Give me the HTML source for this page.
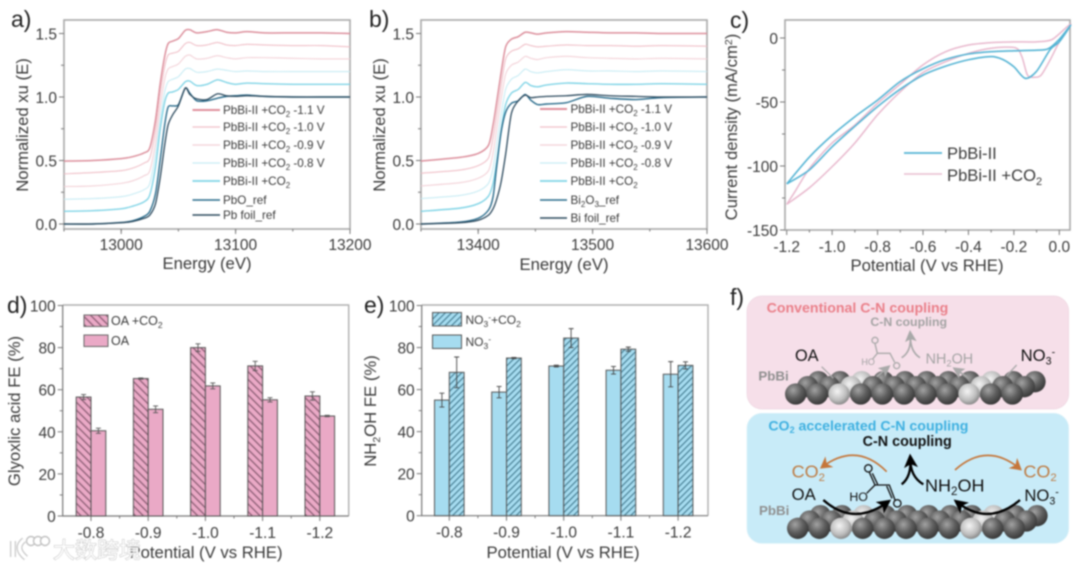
<!DOCTYPE html>
<html lang="en">
<head>
<meta charset="utf-8">
<title>PbBi-II XAS, CV and Faradaic efficiency figure</title>
<style>
html,body{margin:0;padding:0;background:#fff;width:1080px;height:569px;overflow:hidden}
svg{display:block;filter:blur(0.7px)}
text{font-family:"Liberation Sans","Noto Sans CJK SC",sans-serif;fill:#3a3a3a}
.tick{font-size:15.5px}
.title{font-size:16.7px}
.leg{font-size:11.7px}
.panel{font-size:23px;fill:#222}
.ft{font-weight:bold}
</style>
</head>
<body>
<svg id="fig" xmlns="http://www.w3.org/2000/svg" width="1080" height="569" viewBox="0 0 1080 569">
<defs>
<pattern id="hatch-pink" patternUnits="userSpaceOnUse" width="5.5" height="5.5" patternTransform="rotate(-45)">
<rect width="5.5" height="5.5" fill="#eaa9c6"/><rect x="0" width="1.2" height="5.5" fill="#85596f"/>
</pattern>
<pattern id="hatch-blue" patternUnits="userSpaceOnUse" width="4.5" height="4.5" patternTransform="rotate(45)">
<rect width="4.5" height="4.5" fill="#a6dcf0"/><rect x="0" width="1.1" height="4.5" fill="#437a8f"/>
</pattern>
<radialGradient id="atom-dark" cx="38%" cy="32%" r="70%"><stop offset="0" stop-color="#a2a2a2"/><stop offset=".55" stop-color="#5e5e5e"/><stop offset="1" stop-color="#373737"/></radialGradient>
<radialGradient id="atom-light" cx="42%" cy="38%" r="70%"><stop offset="0" stop-color="#f4f4f4"/><stop offset=".6" stop-color="#bdbdbd"/><stop offset="1" stop-color="#777"/></radialGradient>
<marker id="arrow-orange" markerWidth="8" markerHeight="8" refX="5" refY="4" orient="auto"><path d="M0,0 L7,4 L0,8 L2,4 Z" fill="#c5763a"/></marker>
<marker id="arrow-black" markerWidth="6" markerHeight="6" refX="4" refY="3" orient="auto"><path d="M0,0 L6,3 L0,6 L1.5,3 Z" fill="#000"/></marker>
<marker id="arrow-gray" markerWidth="7" markerHeight="7" refX="4" refY="3.5" orient="auto"><path d="M0,0 L7,3.5 L0,7 L1.5,3.5 Z" fill="#a9a9a9"/></marker>
</defs>

<g id="panel-a"></g>
<g id="panel-b"></g>
<g id="panel-c"></g>
<g id="panel-d"></g>
<g id="panel-e"></g>

<!-- static labels -->
<text class="panel" x="11" y="27">a)</text>
<text class="panel" x="369" y="27">b)</text>
<text class="panel" x="730" y="28">c)</text>
<text class="panel" x="7" y="313">d)</text>
<text class="panel" x="364" y="313">e)</text>
<text class="panel" x="730" y="305">f)</text>

<text class="title" x="207" y="269" text-anchor="middle">Energy (eV)</text>
<text class="title" x="564" y="270" text-anchor="middle">Energy (eV)</text>
<text class="title" x="927" y="271" text-anchor="middle">Potential (V vs RHE)</text>
<text class="title" x="206" y="558" text-anchor="middle">Potential (V vs RHE)</text>
<text class="title" x="563" y="558" text-anchor="middle">Potential (V vs RHE)</text>
<text class="title" transform="translate(28,125) rotate(-90)" text-anchor="middle">Normalized xu (E)</text>
<text class="title" transform="translate(385,125) rotate(-90)" text-anchor="middle">Normalized xu (E)</text>
<text class="title" transform="translate(737,127) rotate(-90)" text-anchor="middle">Current density (mA/cm<tspan dy="-5" font-size="10.5">2</tspan><tspan dy="5">)</tspan></text>
<text class="title" transform="translate(20,411) rotate(-90)" text-anchor="middle">Glyoxlic acid FE (%)</text>
<text class="title" transform="translate(376,411) rotate(-90)" text-anchor="middle">NH<tspan dy="4" font-size="10.5">2</tspan><tspan dy="-4">OH FE (%)</tspan></text>

<!-- legends -->
<g>
<line x1="192.5" x2="220" y1="110" y2="110" stroke="#e0909c" stroke-width="2"/><text class="leg" x="223" y="114">PbBi-II +CO<tspan dy="3" font-size="8">2</tspan><tspan dy="-3"> -1.1 V</tspan></text>
<line x1="192.5" x2="220" y1="127" y2="127" stroke="#f0c0c8" stroke-width="1.2"/><text class="leg" x="223" y="131">PbBi-II +CO<tspan dy="3" font-size="8">2</tspan><tspan dy="-3"> -1.0 V</tspan></text>
<line x1="192.5" x2="220" y1="145" y2="145" stroke="#f2d0d6" stroke-width="1.2"/><text class="leg" x="223" y="149">PbBi-II +CO<tspan dy="3" font-size="8">2</tspan><tspan dy="-3"> -0.9 V</tspan></text>
<line x1="192.5" x2="220" y1="163" y2="163" stroke="#c8ecf4" stroke-width="1.2"/><text class="leg" x="223" y="167">PbBi-II +CO<tspan dy="3" font-size="8">2</tspan><tspan dy="-3"> -0.8 V</tspan></text>
<line x1="192.5" x2="220" y1="181" y2="181" stroke="#80d4e6" stroke-width="1.8"/><text class="leg" x="223" y="185">PbBi-II +CO<tspan dy="3" font-size="8">2</tspan></text>
<line x1="192.5" x2="220" y1="200" y2="200" stroke="#2a6c8c" stroke-width="1.6"/><text class="leg" x="223" y="204">PbO_ref</text>
<line x1="192.5" x2="220" y1="215" y2="215" stroke="#2c4a5e" stroke-width="1.4"/><text class="leg" x="223" y="219">Pb foil_ref</text>
</g>
<g>
<line x1="540" x2="567" y1="109" y2="109" stroke="#e0909c" stroke-width="2"/><text class="leg" x="570.5" y="113">PbBi-II +CO<tspan dy="3" font-size="8">2</tspan><tspan dy="-3"> -1.1 V</tspan></text>
<line x1="540" x2="567" y1="127" y2="127" stroke="#f0c0c8" stroke-width="1.2"/><text class="leg" x="570.5" y="131">PbBi-II +CO<tspan dy="3" font-size="8">2</tspan><tspan dy="-3"> -1.0 V</tspan></text>
<line x1="540" x2="567" y1="145" y2="145" stroke="#f2d0d6" stroke-width="1.2"/><text class="leg" x="570.5" y="149">PbBi-II +CO<tspan dy="3" font-size="8">2</tspan><tspan dy="-3"> -0.9 V</tspan></text>
<line x1="540" x2="567" y1="163" y2="163" stroke="#c8ecf4" stroke-width="1.2"/><text class="leg" x="570.5" y="167">PbBi-II +CO<tspan dy="3" font-size="8">2</tspan><tspan dy="-3"> -0.8 V</tspan></text>
<line x1="540" x2="567" y1="181" y2="181" stroke="#80d4e6" stroke-width="1.8"/><text class="leg" x="570.5" y="185">PbBi-II +CO<tspan dy="3" font-size="8">2</tspan></text>
<line x1="540" x2="567" y1="200" y2="200" stroke="#2a6c8c" stroke-width="1.6"/><text class="leg" x="570.5" y="204">Bi<tspan dy="3" font-size="8">2</tspan><tspan dy="-3">O</tspan><tspan dy="3" font-size="8">3</tspan><tspan dy="-3">_ref</tspan></text>
<line x1="540" x2="567" y1="218" y2="218" stroke="#2c4a5e" stroke-width="1.4"/><text class="leg" x="570.5" y="222">Bi foil_ref</text>
</g>
<g>
<line x1="904" x2="942" y1="153" y2="153" stroke="#55b4d4" stroke-width="1.8"/><text x="947" y="159" font-size="16.6">PbBi-II</text>
<line x1="904" x2="942" y1="174" y2="174" stroke="#e8bcd0" stroke-width="1.6"/><text x="947" y="181" font-size="16.6">PbBi-II +CO<tspan dy="4" font-size="11">2</tspan></text>
</g>
<g>
<rect x="84" y="315" width="24" height="11.5" fill="url(#hatch-pink)" stroke="#666"/><text x="111" y="325" font-size="12.5">OA +CO<tspan dy="3" font-size="8.5">2</tspan></text>
<rect x="84" y="335" width="24" height="11.5" fill="#eaa9c6" stroke="#666"/><text x="111" y="345" font-size="12.5">OA</text>
</g>
<g>
<rect x="432.500" y="312.500" width="29" height="13.500" fill="url(#hatch-blue)" stroke="#555"/><text x="465.500" y="324" font-size="12">NO<tspan dy="3" font-size="8.5">3</tspan><tspan dy="-7" font-size="8.5">-</tspan><tspan dy="4">+CO</tspan><tspan dy="3" font-size="8.500">2</tspan></text>
<rect x="432.500" y="335" width="29" height="13.500" fill="#a6dcf0" stroke="#555"/><text x="465.500" y="346" font-size="12">NO<tspan dy="3" font-size="8.5">3</tspan><tspan dy="-7" font-size="8.5">-</tspan></text>
</g>

<!-- panel f schematic, authored in 3x coordinates -->
<g id="panel-f" transform="translate(730,285) scale(.33333)">
<rect x="51" y="33" width="965" height="339" rx="45" fill="#f6dfe9" stroke="#eed6e1" stroke-width="2"/>
<rect x="51" y="385" width="965" height="390" rx="45" fill="#c8ebf8" stroke="#d8f0f8" stroke-width="2"/>
<g id="atoms-top"></g>
<g id="atoms-bottom"></g>

<text class="ft" x="110" y="83" font-size="42.500" style="fill:#ea7f89">Conventional C-N coupling</text>
<text class="ft" x="421" y="123" font-size="37" style="fill:#a3a3a3">C-N coupling</text>
<text x="195" y="228" font-size="49" style="fill:#111">OA</text>
<text x="872" y="228" font-size="50" style="fill:#111">NO<tspan dy="10" font-size="32">3</tspan><tspan dy="-26" font-size="32">-</tspan></text>
<text x="587" y="236" font-size="43" style="fill:#a3a3a3">NH<tspan dy="8" font-size="28">2</tspan><tspan dy="-8">OH</tspan></text>
<text class="ft" x="85" y="287" font-size="40" style="fill:#8f8f8f">PbBi</text>
<g fill="none" stroke="#a9a9a9" stroke-width="4">
<circle cx="435" cy="166" r="9"/><circle cx="500" cy="242" r="9"/>
<path d="M435 176 L442 205 L480 205 L494 232 M442 205 L428 222"/>
<path d="M275 245 L310 280 M860 240 L830 272"/>
<path d="M515 218 Q545 200 541 150" stroke-width="5" marker-end="url(#arrow-gray)"/>
<path d="M570 218 Q540 200 541 150" stroke-width="5"/>
<path d="M440 275 L470 250" stroke-width="5" marker-end="url(#arrow-gray)"/>
<path d="M710 275 L680 255" stroke-width="5" marker-end="url(#arrow-gray)"/>
</g>
<text x="394" y="240" font-size="27" style="fill:#a3a3a3">HO</text>

<text class="ft" x="115" y="436" font-size="42.500" style="fill:#3fb0e0">CO<tspan dy="8" font-size="27">2</tspan><tspan dy="-8"> accelerated C-N coupling</tspan></text>
<text class="ft" x="398" y="483" font-size="43" style="fill:#111">C-N coupling</text>
<text x="185" y="578" font-size="54" style="fill:#bd7c45">CO<tspan dy="10" font-size="34">2</tspan></text>
<text x="880" y="578" font-size="54" style="fill:#bd7c45">CO<tspan dy="10" font-size="34">2</tspan></text>
<text x="185" y="645" font-size="50" style="fill:#111">OA</text>
<text x="585" y="620" font-size="54" style="fill:#111">NH<tspan dy="10" font-size="35">2</tspan><tspan dy="-10">OH</tspan></text>
<text x="883" y="648" font-size="50" style="fill:#111">NO<tspan dy="10" font-size="32">3</tspan><tspan dy="-26" font-size="32">-</tspan></text>
<text class="ft" x="87" y="690" font-size="40" style="fill:#8f8f8f">PbBi</text>
<text x="358" y="648" font-size="37" style="fill:#111">HO</text>
<g fill="none" stroke="#111" stroke-width="4">
<circle cx="415" cy="550" r="11"/><circle cx="502" cy="655" r="11"/>
<path d="M418 562 L435 600 L478 600 L495 645 M427 565 L443 598 M435 600 L410 625 M470 603 L486 640"/>
</g>
<g fill="none" stroke="#c5763a" stroke-width="5">
<path d="M470 560 Q380 470 278 545" marker-end="url(#arrow-orange)"/>
<path d="M675 555 Q770 470 868 550" marker-end="url(#arrow-orange)"/>
</g>
<g fill="none" stroke="#000" stroke-width="7">
<path d="M280 645 Q370 725 472 652" marker-end="url(#arrow-black)"/>
<path d="M870 645 Q775 725 682 652" marker-end="url(#arrow-black)"/>
<path d="M515 598 Q545 575 541 520" stroke-width="7" marker-end="url(#arrow-black)"/>
<path d="M580 598 Q540 575 541 520" stroke-width="7"/>
</g>
</g>

<!-- watermark -->
<g>
<path d="M13 541 L13 557 M24 540 Q14 548 26 558" fill="none" stroke="#c8c8c8" stroke-width="6"/>
<path d="M13 541 L13 557 M24 540 Q14 548 26 558" fill="none" stroke="#fff" stroke-width="3.5"/>
<circle cx="31" cy="541" r="4.500" fill="#fff" stroke="#c0c0c0" stroke-width="1.4"/>
<circle cx="38" cy="541" r="4.500" fill="#fff" stroke="#c0c0c0" stroke-width="1.4"/>
<circle cx="45" cy="541" r="4.500" fill="#fff" stroke="#c0c0c0" stroke-width="1.4"/>
<text x="53" y="558" font-size="22" style="fill:#fff;stroke:#b5b5b5;stroke-width:.8px;paint-order:stroke;font-family:'Liberation Sans','Noto Sans CJK SC',sans-serif">大数跨境</text>
</g>
</svg>

<script>
// ---------- Panel a data ----------
const pbEnergy = [12950,12975,13000,13010,13020,13025,13030,13034,13038,13041,13045,13050,13056,13060,13066,13075,13084,13092,13100,13110,13125,13150,13175,13200];
const pbV11 = [.495,.5,.515,.53,.56,.6,.82,1.1,1.32,1.42,1.44,1.46,1.525,1.53,1.505,1.515,1.53,1.51,1.505,1.515,1.505,1.505,1.505,1.5];
const pbV10 = [.395,.405,.42,.44,.48,.52,.74,1.02,1.24,1.33,1.345,1.36,1.42,1.43,1.405,1.41,1.43,1.41,1.405,1.415,1.41,1.405,1.405,1.395];
const pbV09 = [.295,.3,.32,.34,.38,.42,.64,.92,1.14,1.22,1.24,1.26,1.32,1.33,1.3,1.305,1.325,1.31,1.3,1.31,1.31,1.305,1.3,1.3];
const pbV08 = [.195,.2,.215,.235,.27,.32,.55,.82,1.04,1.12,1.14,1.16,1.22,1.225,1.195,1.2,1.22,1.21,1.2,1.205,1.2,1.2,1.2,1.2];
const pbV00 = [.1,.105,.12,.14,.175,.23,.45,.74,.96,1.03,1.04,1.06,1.12,1.125,1.09,1.1,1.135,1.115,1.1,1.11,1.105,1.1,1.1,1.1];
const pboRef = [0,0,.012,.025,.06,.1,.24,.5,.78,.92,.93,.94,1.07,1.03,.97,.97,.99,1.005,1.01,1.015,1.005,1,1,1];
const pbFoilRef = [0,0,.01,.02,.045,.07,.16,.36,.62,.78,.86,.93,1.07,1.02,.985,.98,1.025,1.01,1.005,1.01,1.005,1,1,1];
const energyTicksA = [13000,13100,13200];
const normTicks = [0,.5,1,1.5];

// ---------- Panel b data ----------
const biEnergy = [13350,13384,13400,13409,13413,13416,13420,13424,13429,13435,13441,13446,13452,13460,13477,13495,13515,13538,13560,13600];
const biV11 = [.496,.525,.556,.62,.78,.95,1.19,1.395,1.455,1.475,1.51,1.505,1.495,1.505,1.515,1.51,1.505,1.505,1.5,1.5];
const biV10 = [.4,.425,.46,.52,.68,.85,1.09,1.3,1.36,1.38,1.415,1.405,1.395,1.4,1.41,1.405,1.405,1.4,1.405,1.4];
const biV09 = [.3,.325,.36,.42,.56,.74,.98,1.18,1.25,1.275,1.32,1.305,1.295,1.31,1.32,1.31,1.305,1.3,1.305,1.3];
const biV08 = [.2,.225,.26,.32,.44,.62,.86,1.06,1.14,1.17,1.22,1.2,1.19,1.2,1.215,1.205,1.205,1.2,1.205,1.2];
const biV00 = [.1,.125,.16,.22,.32,.48,.74,.94,1.03,1.06,1.115,1.09,1.08,1.095,1.11,1.105,1.1,1.1,1.105,1.1];
const bi2o3Ref = [0,.015,.045,.11,.215,.44,.72,.88,.95,.97,1.02,.975,.94,.945,.955,1.005,.99,.98,.995,1];
const biFoilRef = [0,.01,.03,.07,.12,.19,.33,.55,.87,.97,1.015,.995,1,1.005,1.01,1.02,1.01,1.005,1,1];
const energyTicksB = [13400,13500,13600];

// ---------- Panel c data ----------
const cvBluePotential = [-1.2,-1.1,-1,-.9,-.8,-.7,-.6,-.5,-.4,-.3,-.2,-.1,-.05,0,.05,0,-.04,-.1,-.15,-.2,-.25,-.3,-.4,-.5,-.6,-.7,-.8,-.9,-1,-1.1,-1.2];
const cvBlueCurrent = [-114,-93,-76,-61.5,-48.5,-34,-24,-16.7,-12.5,-10.7,-10,-9.500,-8.500,-1,10,-3,-9,-26,-31.500,-22.500,-16.700,-14.500,-17,-22,-29,-40,-53.600,-69,-85,-103,-114];
const cvPinkPotential = [-1.2,-1.16,-1.1,-1,-.9,-.8,-.7,-.6,-.5,-.4,-.3,-.2,-.1,-.03,.05,0,-.04,-.08,-.11,-.14,-.165,-.195,-.3,-.4,-.5,-.6,-.7,-.8,-.9,-1,-1.1,-1.2];
const cvPinkCurrent = [-130,-119,-102,-82,-68,-51,-36,-21,-10.700,-5.500,-3.600,-3,-3,-1,11,-3,-17,-29,-30.700,-29,-14.500,-7.500,-8,-12,-18.500,-27,-42,-60,-82,-100.500,-117,-130];
const cvXTicks = [-1.2,-1,-.8,-.6,-.4,-.2,0];
const cvXLabels = ['-1.2','-1.0','-0.8','-0.6','-0.4','-0.2','0.0'];
const cvYTicks = [0,-50,-100,-150];

// ---------- Panels d / e data ----------
const potentials = ['-0.8','-0.9','-1.0','-1.1','-1.2'];
const feTicks = [0,20,40,60,80,100];
const oaCo2Fe = [56.5,65.3,80,71.3,57];
const oaCo2Err = [1.2,.3,1.8,2.2,2];
const oaFe = [40.5,50.7,61.8,55.2,47.5];
const oaErr = [1.2,1.6,1.4,1,.3];
const no3Fe = [55,58.8,71.2,69.2,67.3];
const no3Err = [3.3,2.7,.4,1.8,6];
const no3Co2Fe = [68.2,75,84.5,79.2,71.5];
const no3Co2Err = [7.3,.3,4.5,1,1.7];

const NS = 'http://www.w3.org/2000/svg';
function mk(parent, tag, attrs){
  const el = document.createElementNS(NS, tag);
  for (const k in attrs) el.setAttribute(k, attrs[k]);
  parent.appendChild(el);
  return el;
}
function scale(d0, d1, r0, r1){ return v => r0 + (v - d0) * (r1 - r0) / (d1 - d0); }
function smoothPath(xs, ys){
  let d = 'M' + xs[0].toFixed(2) + ' ' + ys[0].toFixed(2);
  for (let i = 0; i < xs.length - 1; i++){
    const a = Math.max(i - 1, 0), b = Math.min(i + 2, xs.length - 1);
    const t = 0.14;
    d += ' C' + (xs[i] + (xs[i+1] - xs[a]) * t).toFixed(2) + ' ' + (ys[i] + (ys[i+1] - ys[a]) * t).toFixed(2) +
         ' ' + (xs[i+1] - (xs[b] - xs[i]) * t).toFixed(2) + ' ' + (ys[i+1] - (ys[b] - ys[i]) * t).toFixed(2) +
         ' ' + xs[i+1].toFixed(2) + ' ' + ys[i+1].toFixed(2);
  }
  return d;
}
function drawCurve(g, X, Y, xv, yv, color, width){
  const el = mk(g, 'path', {d: smoothPath(xv.map(X), yv.map(Y)), fill: 'none', stroke: color, 'stroke-width': width, 'stroke-linejoin': 'round'});
  return el;
}
function tickLabel(g, x, y, txt, anchor){
  const el = mk(g, 'text', {x: x, y: y, class: 'tick', 'text-anchor': anchor});
  el.textContent = txt;
  
  
}
function frame(g, x0, x1, y0, y1){
  const el = mk(g, 'rect', {x: x0, y: y0, width: x1 - x0, height: y1 - y0, fill: 'none', stroke: '#a8a8a8', 'stroke-width': 1.6});
  
  
}
function xTick(g, x, y, len){ mk(g, 'line', {x1: x, x2: x, y1: y, y2: y + len, stroke: '#777', 'stroke-width': 1}); }
function yTick(g, x, y, len){ mk(g, 'line', {x1: x - len, x2: x, y1: y, y2: y, stroke: '#777', 'stroke-width': 1}); }

// XAS panels
function xasPanel(id, E, series, eMin, eMax, x0, x1, eTicks, eMinorStep){
  const g = document.getElementById(id);
  const X = scale(eMin, eMax, x0, x1), Y = scale(0, 1.5, 224, 33.5);
  frame(g, x0, x1, 20, 229);
  normTicks.forEach(v => {
    yTick(g, x0, Y(v), 5);
    tickLabel(g, x0 - 7, Y(v) + 6, v.toFixed(1), 'end');
  });
  [.25,.75,1.25].forEach(v => yTick(g, x0, Y(v), 3));
  for (let e = eMin; e <= eMax; e += eMinorStep) xTick(g, X(e), 229, 2.5);
  eTicks.forEach(e => {
    xTick(g, X(e), 229, 5);
    tickLabel(g, X(e), 250, String(e), 'middle');
  });
  series.forEach(s => {
    const c = drawCurve(g, X, Y, E, s.values, s.color, s.width);
    
    
  });
}
xasPanel('panel-a', pbEnergy, [
  {name:'curve-1-1v', values: pbV11, color:'#dc8f9c', width:1.5},
  {name:'curve-1-0v', values: pbV10, color:'#f0c0c8', width:1.1},
  {name:'curve-0-9v', values: pbV09, color:'#f3d2d8', width:1.1},
  {name:'curve-0-8v', values: pbV08, color:'#c8ecf4', width:1.1},
  {name:'curve-co2', values: pbV00, color:'#80d4e6', width:1.4},
  {name:'curve-pbo-ref', values: pboRef, color:'#2a6c8c', width:1.4},
  {name:'curve-pb-foil-ref', values: pbFoilRef, color:'#2c4a5e', width:1.3}
], 12950, 13200, 64, 350, energyTicksA, 50);
xasPanel('panel-b', biEnergy, [
  {name:'curve-1-1v', values: biV11, color:'#dc8f9c', width:1.5},
  {name:'curve-1-0v', values: biV10, color:'#f0c0c8', width:1.1},
  {name:'curve-0-9v', values: biV09, color:'#f3d2d8', width:1.1},
  {name:'curve-0-8v', values: biV08, color:'#c8ecf4', width:1.1},
  {name:'curve-co2', values: biV00, color:'#80d4e6', width:1.4},
  {name:'curve-bi2o3-ref', values: bi2o3Ref, color:'#2a6c8c', width:1.4},
  {name:'curve-bi-foil-ref', values: biFoilRef, color:'#2c4a5e', width:1.3}
], 13350, 13600, 421, 707, energyTicksB, 50);

// CV panel
(function(){
  const g = document.getElementById('panel-c');
  const X = scale(-1.2, 0, 786.7, 1059.3), Y = scale(0, -150, 38, 230);
  frame(g, 785, 1070, 20, 230);
  cvYTicks.forEach(v => {
    yTick(g, 785, Y(v), 5);
    tickLabel(g, 778, Y(v) + 6, String(v), 'end');
  });
  [-25,-75,-125].forEach(v => yTick(g, 785, Y(v), 3));
  cvXTicks.forEach((v, i) => {
    xTick(g, X(v), 230, 5);
    xTick(g, X(v + .1), 230, 2.5);
    tickLabel(g, X(v), 252, cvXLabels[i], 'middle');
  });
  const pink = drawCurve(g, X, Y, cvPinkPotential, cvPinkCurrent, '#e8b8cd', 1.5);
  
  
  const blue = drawCurve(g, X, Y, cvBluePotential, cvBlueCurrent, '#55b4d4', 1.6);
  
  
})();

// Bar panels
function barPanel(id, x0, x1, yBot, firstX, stepX, s1, e1, f1, s2, e2, f2, n1, n2, errColor){
  const g = document.getElementById(id);
  const Y = scale(0, 100, yBot, 305.5);
  mk(g, 'path', {d: 'M' + x0 + ' 305 H' + x1 + ' V' + yBot, fill: 'none', stroke: '#b0b0b0', 'stroke-width': 1.4});
  const axis = mk(g, 'path', {d: 'M' + x0 + ' 305 V' + yBot + ' H' + x1, fill: 'none', stroke: '#777', 'stroke-width': 1.2});
  
  
  feTicks.forEach(v => {
    yTick(g, x0, Y(v), 5);
    if (v < 100) yTick(g, x0, Y(v + 10), 3);
    tickLabel(g, x0 - 7, Y(v) + 6, String(v), 'end');
  });
  const W = 14.8;
  potentials.forEach((p, i) => {
    const cx = firstX + i * stepX;
    xTick(g, cx, yBot, 5);
    if (i < 4) xTick(g, cx + stepX / 2, yBot, 2.5);
    tickLabel(g, cx, yBot + 22, p, 'middle');
    [[s1, e1, f1, cx - W, n1], [s2, e2, f2, cx, n2]].forEach(b => {
      const v = b[0][i], err = b[1][i], xl = b[3];
      const bar = mk(g, 'rect', {x: xl, y: Y(v), width: W, height: yBot - Y(v), fill: b[2], stroke: '#555', 'stroke-width': 1});
      
      
      const m = xl + W / 2;
      const eb = mk(g, 'path', {d: 'M' + m + ' ' + Y(v + err) + ' V' + Y(v - err) + ' M' + (m - 2.5) + ' ' + Y(v + err) + ' h5 M' + (m - 2.5) + ' ' + Y(v - err) + ' h5', fill: 'none', stroke: errColor, 'stroke-width': 0.9});
      
      
    });
  });
}
barPanel('panel-d', 62.7, 348.7, 516, 91, 57.2, oaCo2Fe, oaCo2Err, 'url(#hatch-pink)', oaFe, oaErr, '#eaa9c6', 'oa-co2', 'oa', '#555');
barPanel('panel-e', 421.7, 708, 515.7, 449.3, 57.2, no3Fe, no3Err, '#a6dcf0', no3Co2Fe, no3Co2Err, 'url(#hatch-blue)', 'no3', 'no3-co2', '#444');

// Atoms in schematic
function atoms(id, xStart, yBack, yMid, yFront){
  const g = document.getElementById(id);
  const rows = [[xStart + 68, yBack, 11], [xStart + 36, yMid, 11], [xStart, yFront, 11]];
  rows.forEach(r => {
    for (let i = 0; i < r[2]; i++){
      const light = (i === 2 || i === 8);
      const c = mk(g, 'circle', {cx: r[0] + i * 65, cy: r[1], r: 32, fill: light ? 'url(#atom-light)' : 'url(#atom-dark)'});
      
      
    }
  });
}
atoms('atoms-top', 197, 290, 305, 327);
atoms('atoms-bottom', 203, 692, 708, 730);
</script>
</body>
</html>
